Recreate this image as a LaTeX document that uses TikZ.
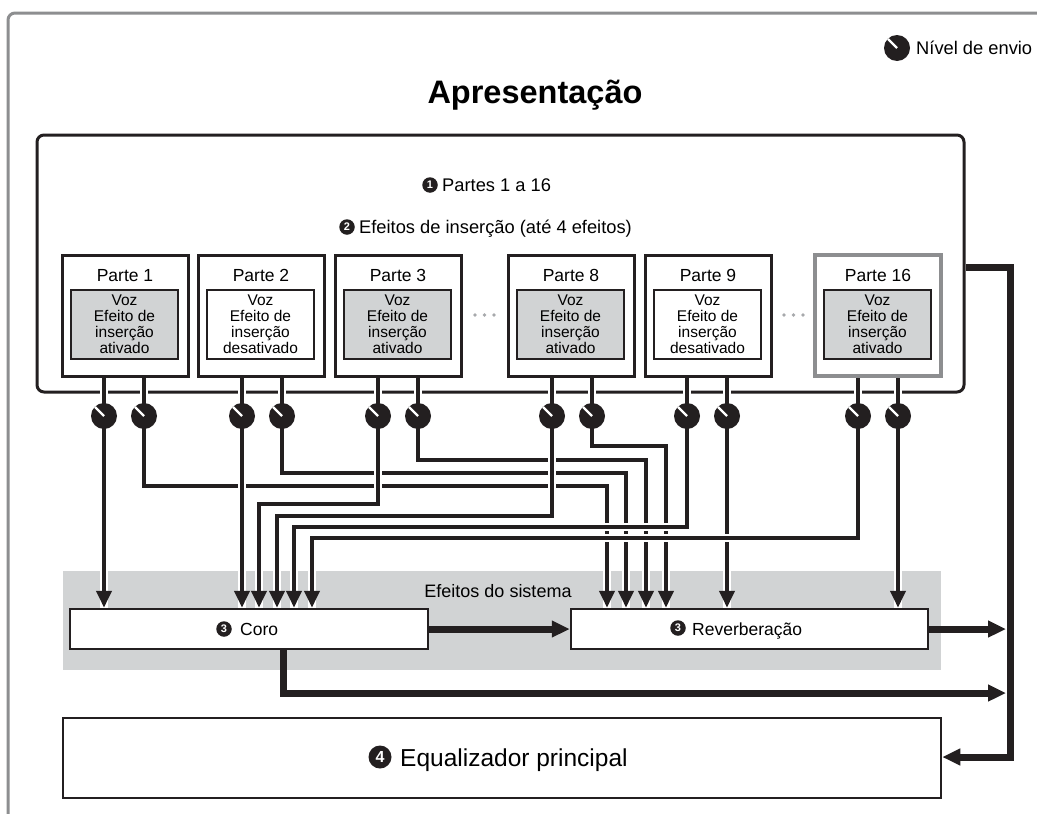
\documentclass[tikz,border=0pt]{standalone}
\usepackage{fontspec}
\setmainfont{Liberation Sans}
\usetikzlibrary{arrows.meta}
\definecolor{ink}{HTML}{231F20}
\definecolor{panel}{HTML}{D1D3D4}
\definecolor{frameg}{HTML}{8D8E90}
\definecolor{dotg}{HTML}{A7A9AC}
\pgfdeclarelayer{back}
\pgfdeclarelayer{wires}
\pgfsetlayers{back,wires,main}
\newcommand\fsz[1]{\fontsize{#1}{#1}\selectfont}
\newcommand\mkpart[6]{%
  \node[partbox,#6] (#1) at (#2+63,315.5) {};
  \node[anchor=base,inner sep=0pt,font=\fsz{17.5}] (#1t) at (#2+63,281) {#3};
  \node[voxbox,fill=#4] (#1v) at (#2+62.5,324.5) {Voz\\Efeito de\\inserção\\#5};
}
\begin{document}
\begin{tikzpicture}[x=1pt,y=-1pt,line join=miter,
  sig/.style={draw=ink,line width=4pt,-{Triangle[length=17pt,width=15pt]},
    preaction={draw=white,line width=8pt,arrows=-}},
  fat/.style={draw=ink,line width=7pt,-{Triangle[length=18pt,width=16pt]}},
  knob/.style={circle,fill=ink,minimum size=26pt,inner sep=0pt,
    path picture={\draw[white,line width=2.2pt] (path picture bounding box.center) -- ++(135:14pt);}},
  cnum/.style={circle,fill=ink,text=white,inner sep=0pt,minimum size=15.5pt,font=\bfseries\fsz{11}},
  partbox/.style={draw=ink,fill=white,line width=3pt,minimum width=126pt,minimum height=121pt,inner sep=0pt},
  voxbox/.style={draw=ink,line width=1.3pt,minimum width=107pt,minimum height=69pt,inner sep=0pt,
    align=center,font=\fontsize{15.5}{16}\selectfont},
  fxbox/.style={draw=ink,fill=white,line width=2.5pt,inner sep=0pt},
  lbl/.style={anchor=base west,inner sep=0pt}
]
\useasboundingbox (0,0) rectangle (1037,814);

\begin{pgfonlayer}{back}
  \fill[white] (0,0) rectangle (1037,814);
  \draw[frameg,line width=3pt,rounded corners=7pt] (8,830) -- (8,13) -- (1050,13);
  \node[fill=panel,minimum width=878pt,minimum height=99pt,inner sep=0pt] (sys) at (502,620.5) {};
  \node[anchor=base,inner sep=0pt,font=\fsz{18}] (systxt) at (498,597) {Efeitos do sistema};
  \node[draw=ink,line width=3pt,rounded corners=7pt,minimum width=927pt,minimum height=257pt,inner sep=0pt] (perf) at (500.5,263.5) {};
\end{pgfonlayer}

% title and legend
\node[anchor=base,inner sep=0pt,font=\bfseries\fsz{32.5}] (title) at (535,103) {Apresentação};
\node[knob] (legknob) at (897,48) {};
\node[lbl,font=\fsz{18.3}] (legtxt) at (916,54.5) {Nível de envio};

% headings
\node[cnum] (n1) at (430,185) {1};
\node[lbl,font=\fsz{18.3}] (t1) at (442,191.5) {Partes 1 a 16};
\node[cnum] (n2) at (347,227) {2};
\node[lbl,font=\fsz{18.3}] (t2) at (359,233.5) {Efeitos de inserção (até 4 efeitos)};

% parts
\mkpart{p1}{62}{Parte 1}{panel}{ativado}{}
\mkpart{p2}{198}{Parte 2}{white}{desativado}{}
\mkpart{p3}{335}{Parte 3}{panel}{ativado}{}
\mkpart{p8}{508}{Parte 8}{panel}{ativado}{}
\mkpart{p9}{645}{Parte 9}{white}{desativado}{}
\mkpart{p16}{815}{Parte 16}{panel}{ativado}{draw=frameg,line width=3.6pt}

% dots
\foreach \dx in {475,484.5,494,784,793.5,803}
  \fill[dotg] (\dx,315) circle[radius=1.8pt];

% knobs
\node[knob] (k1L) at (104,416) {};
\node[knob] (k1R) at (144,416) {};
\node[knob] (k2L) at (242,416) {};
\node[knob] (k2R) at (282,416) {};
\node[knob] (k3L) at (378,416) {};
\node[knob] (k3R) at (418,416) {};
\node[knob] (k8L) at (552,416) {};
\node[knob] (k8R) at (592,416) {};
\node[knob] (k9L) at (687,416) {};
\node[knob] (k9R) at (727,416) {};
\node[knob] (k16L) at (858,416) {};
\node[knob] (k16R) at (898,416) {};

% system effects boxes
\node[fxbox,minimum width=358pt,minimum height=40pt] (coro) at (249,629) {};
\node[cnum] (n3a) at (224,629) {3};
\node[lbl,font=\fsz{17.5}] (corot) at (240,635) {Coro};
\node[fxbox,minimum width=357pt,minimum height=40pt] (rev) at (749.5,629) {};
\node[cnum] (n3b) at (678,628) {3};
\node[lbl,font=\fsz{17.5}] (revt) at (692,635) {Reverberação};

% master EQ
\node[fxbox,minimum width=878pt,minimum height=80pt] (eq) at (502,758) {};
\node[cnum,minimum size=23pt,font=\bfseries\fsz{16}] (n4) at (380,757) {4};
\node[lbl,font=\fsz{24.5}] (eqt) at (400,766) {Equalizador principal};

% wires
\begin{pgfonlayer}{wires}
  % to reverb
  \draw[sig] (k1R |- p1.center) -- (k1R |- 0,486) -- (607,486) -- (607,0 |- rev.north);
  \draw[sig] (k2R |- p2.center) -- (k2R |- 0,473) -- (626,473) -- (626,0 |- rev.north);
  \draw[sig] (k3R |- p3.center) -- (k3R |- 0,460) -- (646,460) -- (646,0 |- rev.north);
  \draw[sig] (k8R |- p8.center) -- (k8R |- 0,446) -- (666,446) -- (666,0 |- rev.north);
  \draw[sig] (k9R |- p9.center) -- (k9R |- rev.north);
  \draw[sig] (k16R |- p16.center) -- (k16R |- rev.north);
  % to chorus
  \draw[sig] (k1L |- p1.center) -- (k1L |- coro.north);
  \draw[sig] (k2L |- p2.center) -- (k2L |- coro.north);
  \draw[sig] (k3L |- p3.center) -- (k3L |- 0,504) -- (259,504) -- (259,0 |- coro.north);
  \draw[sig] (k8L |- p8.center) -- (k8L |- 0,516) -- (277,516) -- (277,0 |- coro.north);
  \draw[sig] (k9L |- p9.center) -- (k9L |- 0,527) -- (294,527) -- (294,0 |- coro.north);
  \draw[sig] (k16L |- p16.center) -- (k16L |- 0,538) -- (312,538) -- (312,0 |- coro.north);
\end{pgfonlayer}

% thick outputs
\coordinate (busin) at (1006,0);
\draw[fat] (coro.east) -- (rev.west);
\draw[fat] (rev.east) -- (busin |- rev.east);
\draw[fat] (coro.south -| 283,0) -- (283,693) -- (busin |- 0,693);
\draw[fat] (perf.east |- 0,267) -- (1010,267) -- (1010,757) -- (eq.east |- 0,757);
\end{tikzpicture}
\end{document}
